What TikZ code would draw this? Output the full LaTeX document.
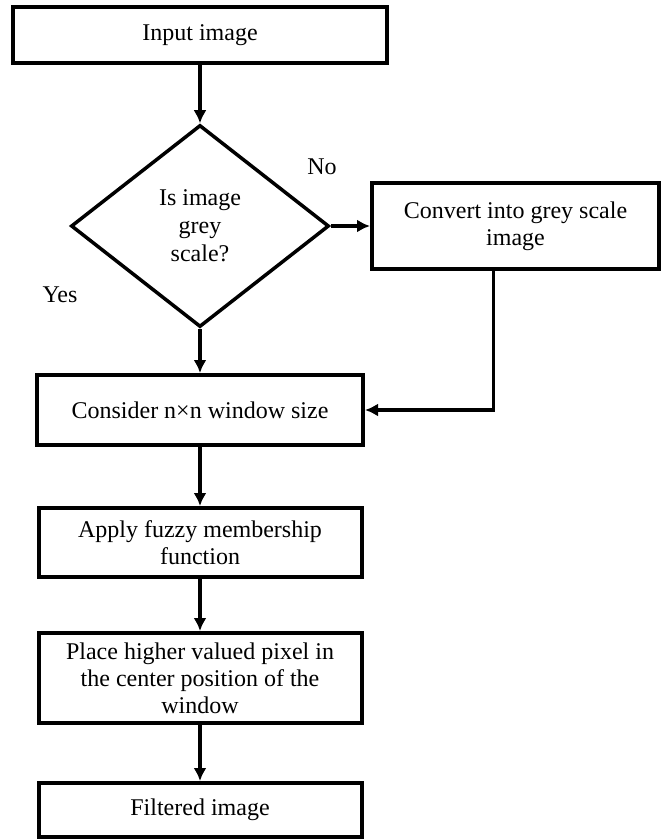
\documentclass[tikz,border=0pt]{standalone}
\usepackage{fontspec}
\setmainfont{Liberation Serif}
\usetikzlibrary{calc}
\usetikzlibrary {arrows.meta}
\usetikzlibrary {shapes.geometric}

\begin{document}
\begin{tikzpicture}[x=1pt,y=-1pt,>={Latex[length=13pt,width=13pt]}]
\tikzstyle{blk}=[draw,shape=rectangle,line width=4pt,inner sep=0pt,align=center,font=\fontsize{24}{27}\selectfont]
\tikzstyle{dec}=[draw,shape=diamond,line width=3.5pt,inner sep=0pt,align=center,font=\fontsize{24}{28}\selectfont]
\tikzstyle{lbl}=[font=\fontsize{24}{27}\selectfont]
\tikzstyle{lnk}=[->,line width=3.5pt]
\useasboundingbox (0,0) rectangle (666,839);

\node[blk,minimum width=374pt,minimum height=56pt](inp) at (200,35){Input image};
\node[dec,minimum width=258pt,minimum height=202pt](isgrey) at (200,226){Is image\\grey\\scale?};
\node[blk,minimum width=287pt,minimum height=86pt](conv) at (515.5,226){Convert into grey scale\\image};
%
\node[blk,minimum width=326pt,minimum height=70pt](cons) at (200,410){Consider n×n window size};
\node[blk,minimum width=323pt,minimum height=69pt](app) at (200,542.5){Apply fuzzy membership\\function};
\node[blk,minimum width=323pt,minimum height=90pt](plc) at (200,678){Place higher valued pixel in\\the center position of the\\window};
\node[blk,minimum width=323pt,minimum height=54pt](fil) at (200,810){Filtered image};
%
\node[lbl](no) at (322,167){No};
\node[lbl](yes) at (60,295){Yes};
%
\draw[lnk] (inp) -- (isgrey);
\draw[lnk] (isgrey.east) -- (isgrey.east -| conv.west);
\draw[lnk] (isgrey) -- (cons);
\draw[lnk] ($(conv.south)+(-22,0)$) |- (cons.east);
\draw[lnk] (cons) -- (app);
\draw[lnk] (app) -- (plc);
\draw[lnk] (plc) -- (fil);
\end{tikzpicture}
\end{document}
